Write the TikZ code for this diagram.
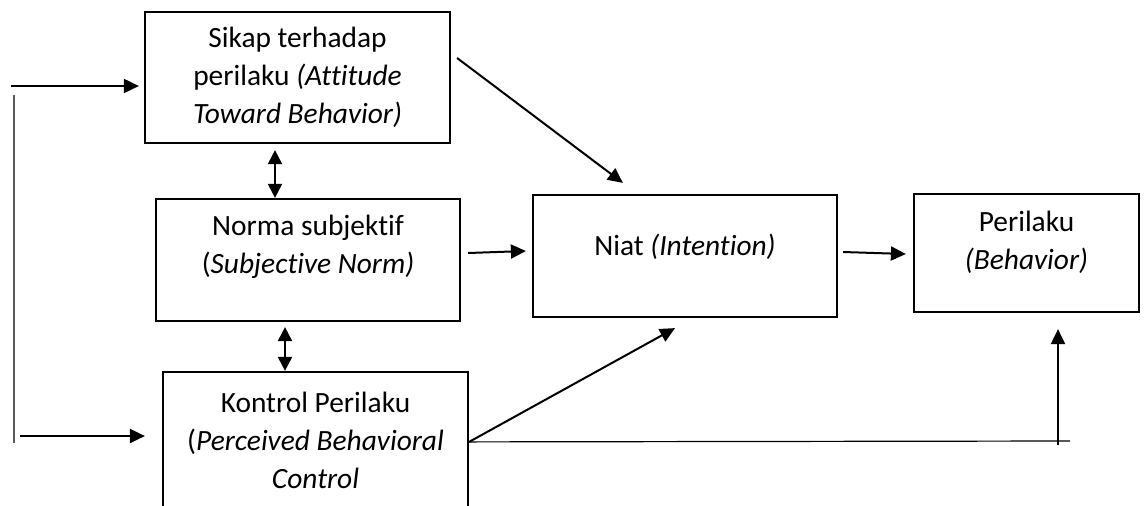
\documentclass[tikz,border=0pt]{standalone}
\usepackage{fontspec}
\setmainfont{Carlito}[Ligatures=CommonOff]
\usetikzlibrary{arrows.meta,positioning}

\begin{document}
\begin{tikzpicture}[
  x=0.5pt, y=-0.5pt,
  every node/.style={font=\fontsize{14.7}{19}\selectfont},
  box/.style={draw, line width=1.1pt, align=center, inner sep=0pt},
  arrow/.style={-{Triangle[length=7.5pt,width=7pt]}, line width=1pt},
  dblarrow/.style={{Triangle[length=7pt,width=7pt]}-{Triangle[length=7pt,width=7pt]}, line width=1pt},
  thinline/.style={line width=0.6pt}
]
\useasboundingbox (0,0) rectangle (1146,505);
\clip (0,0) rectangle (1146,505);

\node[box, minimum width=152.5pt, minimum height=65.5pt] (sikap) at (297.5,77.5) {Sikap terhadap\\perilaku \textit{(Attitude}\\\textit{Toward Behavior)}};
\node[box, minimum width=152pt, minimum height=61pt, text depth=16pt] (norma) at (308,260) {Norma subjektif\\(\textit{Subjective Norm)}};
\node[box, minimum width=152.5pt, minimum height=68pt] (kontrol) at (315.5,440) {Kontrol Perilaku\\(\textit{Perceived Behavioral}\\\textit{Control}};
\node[box, minimum width=152pt, minimum height=61pt, text depth=11pt] (niat) at (685,256) {Niat \textit{(Intention)}};
\node[box, minimum width=112.5pt, minimum height=59pt, text depth=13pt] (perilaku) at (1026.5,253) {Perilaku\\\textit{(Behavior)}};

\coordinate (fbtop) at (11,86);
\coordinate (fbbot) at (20,436);
\coordinate (fbup) at (14,95);
\coordinate (fbdown) at (14,443);
\coordinate (kout) at ([yshift=-35.5pt]kontrol.north east);
\coordinate (lineend) at (1070,441);
\coordinate (upbase) at (1058,445);

\draw[thinline, black!65] (fbup) -- (fbdown);
\draw[arrow, shorten >=2.5pt] (fbtop) -- (fbtop -| sikap.west);
\draw[arrow, shorten >=8.5pt] (fbbot) -- (fbbot -| kontrol.west);
\draw[dblarrow, shorten <=3pt] ([xshift=-11.25pt]sikap.south) -- ([xshift=-11.25pt]sikap.south |- norma.north);
\draw[dblarrow, shorten <=2.5pt] ([xshift=-11.5pt]norma.south) -- ([xshift=-11.5pt]norma.south |- kontrol.north);
\draw[arrow] ([xshift=3pt,yshift=9.75pt]sikap.east) -- ([xshift=45.5pt,yshift=5.5pt]niat.north west);
\draw[arrow] ([xshift=3.5pt,yshift=3.5pt]norma.east) -- ([xshift=-3pt,yshift=2.5pt]niat.west);
\draw[arrow] (kout) -- ([xshift=-5pt,yshift=-5pt]niat.south);
\draw[thinline] (kout) -- (lineend);
\draw[arrow, shorten >=8pt] (upbase) -- (upbase |- perilaku.south);
\draw[arrow] ([xshift=2.5pt,yshift=2pt]niat.east) -- ([xshift=-3.5pt,yshift=-0.5pt]perilaku.west);
\end{tikzpicture}
\end{document}
